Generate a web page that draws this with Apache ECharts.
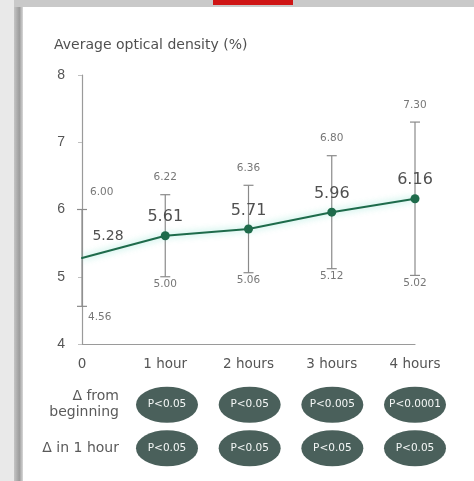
<!DOCTYPE html>
<html>
<head>
<meta charset="utf-8">
<script src="https://cdn.jsdelivr.net/npm/echarts@6/dist/echarts.min.js"></script>
<style>
  html, body { margin: 0; padding: 0; background: #ffffff; }
  #chart { width: 474px; height: 481px; }
</style>
</head>
<body>
<div id="chart"></div>
<script>
// Time points and mean optical density with its range
const categories = ['0', '1 hour', '2 hours', '3 hours', '4 hours'];
const meanValues = [5.28, 5.61, 5.71, 5.96, 6.16];
const upperValues = [6.00, 6.22, 6.36, 6.80, 7.30];
const lowerValues = [4.56, 5.00, 5.06, 5.12, 5.02];
const yTicks = { min: 4, max: 8, interval: 1 };

// Significance table below the chart
const tableColumns = ['1 hour', '2 hours', '3 hours', '4 hours'];
const rowLabels = ['Δ from\nbeginning', 'Δ in 1 hour'];
const fromBeginningP = ['P<0.05', 'P<0.05', 'P<0.005', 'P<0.0001'];
const inOneHourP = ['P<0.05', 'P<0.05', 'P<0.05', 'P<0.05'];

const chart = echarts.init(document.getElementById('chart'));

const fmt = v => v.toFixed(2);
const FONT = 'DejaVu Sans, Verdana, sans-serif';

function renderRange(params, api) {
  const idx = api.value(0);
  const top = api.coord([idx, api.value(1)]);
  const bottom = api.coord([idx, api.value(2)]);
  const half = 5;
  const line = { stroke: '#8a8a8a', lineWidth: 1.2 };
  const first = idx === 0;
  const children = [
    { type: 'line', shape: { x1: top[0], y1: top[1], x2: bottom[0], y2: bottom[1] }, style: line },
    { type: 'line', shape: { x1: top[0] - half, y1: top[1], x2: top[0] + half, y2: top[1] }, style: line },
    { type: 'line', shape: { x1: bottom[0] - half, y1: bottom[1], x2: bottom[0] + half, y2: bottom[1] }, style: line },
    {
      type: 'text',
      style: {
        x: first ? top[0] + 8 : top[0],
        y: top[1] - 17,
        text: fmt(api.value(1)),
        fill: '#777', font: '10.5px ' + FONT,
        align: first ? 'left' : 'center', verticalAlign: 'middle'
      }
    },
    {
      type: 'text',
      style: {
        x: first ? bottom[0] + 6 : bottom[0],
        y: first ? bottom[1] + 11 : bottom[1] + 8,
        text: fmt(api.value(2)),
        fill: '#777', font: '10.5px ' + FONT,
        align: first ? 'left' : 'center', verticalAlign: 'middle'
      }
    }
  ];
  return { type: 'group', children };
}

const pillStyle = {
  type: 'scatter',
  xAxisIndex: 1,
  yAxisIndex: 1,
  symbol: 'circle',
  symbolSize: [62, 36],
  itemStyle: { color: '#4a605b', opacity: 1 },
  label: {
    show: true, position: 'inside', color: '#f4f7f6',
    fontSize: 10.5, fontFamily: FONT,
    formatter: p => p.data[2]
  },
  silent: true
};

chart.setOption({
  animation: false,
  backgroundColor: '#ffffff',
  textStyle: { fontFamily: FONT },
  graphic: [
    { type: 'rect', shape: { x: 0, y: 0, width: 15, height: 481 }, style: { fill: '#e9e9e9' }, z: -10 },
    {
      type: 'rect', shape: { x: 14, y: 0, width: 9, height: 481 },
      style: {
        fill: new echarts.graphic.LinearGradient(0, 0, 1, 0, [
          { offset: 0, color: '#c4c4c4' }, { offset: 0.6, color: '#9c9c9c' }, { offset: 1, color: '#d8d8d8' }
        ])
      }, z: -10
    },
    { type: 'rect', shape: { x: 14, y: 0, width: 460, height: 7 }, style: { fill: '#c9c9c9' }, z: -10 },
    { type: 'rect', shape: { x: 213, y: 0, width: 80, height: 5 }, style: { fill: '#cf1515' }, z: -9 },
    {
      type: 'text', left: 54, top: 38,
      style: { text: 'Average optical density (%)', fill: '#505050', font: '14px ' + FONT }
    }
  ],
  grid: [
    { left: 82, right: 59, top: 75, bottom: 137 },
    { left: 167, right: 59, top: 383, bottom: 11 }
  ],
  xAxis: [
    {
      type: 'category', gridIndex: 0, data: categories, boundaryGap: false,
      axisLine: { lineStyle: { color: '#9a9a9a', width: 1.2 } },
      axisTick: { show: false },
      axisLabel: { color: '#555', fontSize: 13.5, margin: 13, fontFamily: FONT }
    },
    {
      type: 'category', gridIndex: 1, data: tableColumns, boundaryGap: false,
      show: false
    }
  ],
  yAxis: [
    {
      type: 'value', gridIndex: 0, min: yTicks.min, max: yTicks.max, interval: yTicks.interval,
      axisLine: { show: true, lineStyle: { color: '#9a9a9a', width: 1.2 } },
      axisTick: { show: true, length: 4, lineStyle: { color: '#c0c0c0' } },
      splitLine: { show: false },
      axisLabel: { color: '#555', fontSize: 14, margin: 17, fontFamily: 'Liberation Sans, Arial, sans-serif' }
    },
    {
      type: 'category', gridIndex: 1, data: rowLabels, inverse: true,
      axisLine: { show: false }, axisTick: { show: false }, splitLine: { show: false },
      axisLabel: {
        color: '#5a5a5a', fontSize: 14, margin: 48, lineHeight: 16,
        fontFamily: FONT, align: 'right'
      }
    }
  ],
  series: [
    {
      type: 'custom',
      xAxisIndex: 0, yAxisIndex: 0,
      renderItem: renderRange,
      data: categories.map((c, i) => [i, upperValues[i], lowerValues[i]]),
      z: 2,
      silent: true
    },
    {
      type: 'line',
      xAxisIndex: 0, yAxisIndex: 0,
      data: meanValues.map((v, i) => i === 0
        ? { value: v, symbolSize: 2, label: { offset: [26, 0], fontSize: 14, position: 'top', distance: 14 } }
        : v),
      symbol: 'circle',
      symbolSize: 9,
      lineStyle: { color: '#1e6b4b', width: 2, shadowColor: 'rgba(90,215,190,0.75)', shadowBlur: 7 },
      itemStyle: { color: '#1e6b4b' },
      label: {
        show: true, position: 'top', distance: 6,
        color: '#505050', fontSize: 16, fontFamily: FONT,
        formatter: p => fmt(p.value)
      },
      z: 5,
      silent: true
    },
    Object.assign({}, pillStyle, {
      data: tableColumns.map((c, i) => [i, 0, fromBeginningP[i]])
    }),
    Object.assign({}, pillStyle, {
      data: tableColumns.map((c, i) => [i, 1, inOneHourP[i]])
    })
  ]
});
</script>
</body>
</html>
